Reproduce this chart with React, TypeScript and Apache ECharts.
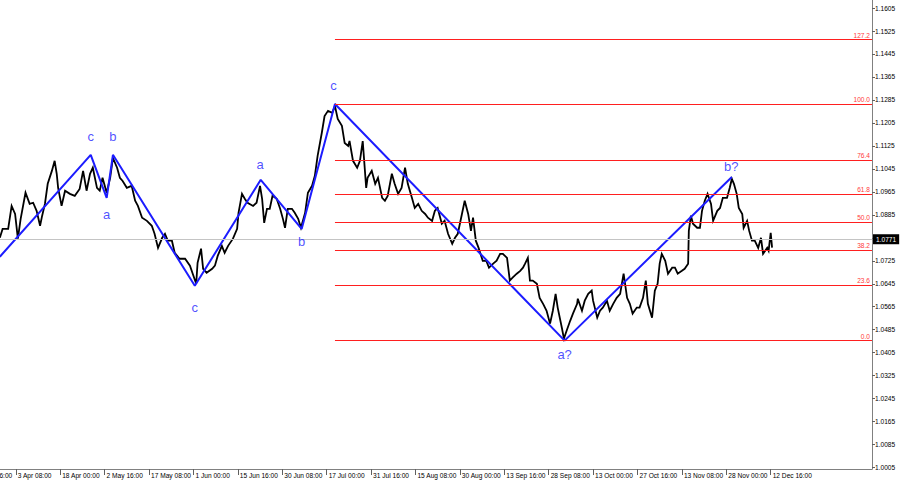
import React, { useEffect, useRef } from "react";
import * as echarts from "echarts";

// H4 bar index on the x axis, price on the y axis
const xTickBars = [-41, 23, 87, 151, 215, 279, 343, 407, 471, 535, 599, 663, 727, 791, 855, 919, 983, 1047, 1111];
const xTickLabels = [
  "17 Mar 16:00", "3 Apr 08:00", "18 Apr 00:00", "2 May 16:00", "17 May 08:00", "1 Jun 00:00",
  "15 Jun 16:00", "30 Jun 08:00", "17 Jul 00:00", "31 Jul 16:00", "15 Aug 08:00", "30 Aug 00:00",
  "13 Sep 16:00", "28 Sep 08:00", "13 Oct 00:00", "27 Oct 16:00", "13 Nov 08:00", "28 Nov 00:00", "12 Dec 16:00",
];
const yTickLabels = [
  "1.0005", "1.0085", "1.0165", "1.0245", "1.0325", "1.0405", "1.0485", "1.0565", "1.0645", "1.0725", "1.0805",
  "1.0885", "1.0965", "1.1045", "1.1125", "1.1205", "1.1285", "1.1365", "1.1445", "1.1525", "1.1605",
];

const pricePath: [number, number][] = [
  [0, 1.0805], [4, 1.0836], [12, 1.0836], [17, 1.0916], [22, 1.0888], [26, 1.0802], [30, 1.0871], [37, 1.0962],
  [43, 1.0923], [48, 1.0927], [53, 1.0899], [58, 1.0847], [61, 1.0882], [65, 1.0923], [69, 1.0993], [75, 1.1038],
  [79, 1.1073], [82, 1.1028], [84, 1.0979], [89, 1.0916], [94, 1.0969], [101, 1.0958], [108, 1.0951], [115, 1.0975],
  [120, 1.1038], [125, 1.0969], [130, 1.1028], [134, 1.1049], [140, 1.0979], [144, 1.0969], [148, 1.1014], [154, 1.0962],
  [159, 1.1014], [163, 1.1083], [169, 1.1049], [173, 1.1014], [177, 1.1003], [183, 1.0979], [190, 1.0986], [195, 1.0934],
  [199, 1.0916], [205, 1.0875], [212, 1.0864], [219, 1.0847], [223, 1.0819], [228, 1.077], [234, 1.0805], [238, 1.0819],
  [242, 1.0795], [248, 1.0795],
  [252, 1.0753], [259, 1.0732], [267, 1.0732], [274, 1.0708], [278, 1.068], [283, 1.0645], [285, 1.0718], [290, 1.0767],
  [293, 1.0697], [298, 1.0683], [306, 1.0697], [310, 1.0708], [314, 1.0742], [320, 1.0777], [324, 1.0753], [329, 1.0777],
  [336, 1.0802], [342, 1.0836], [344, 1.0892], [349, 1.0958], [353, 1.0941], [357, 1.0927], [365, 1.0916], [370, 1.0927],
  [375, 1.0986], [378, 1.0941], [381, 1.0857], [385, 1.0906], [389, 1.0906], [393, 1.0951], [399, 1.0941], [404, 1.0906],
  [408, 1.0871], [411, 1.084], [415, 1.0906], [421, 1.0906], [425, 1.0892], [430, 1.0871], [434, 1.084], [440, 1.0892],
  [444, 1.0962], [450, 1.0986], [454, 1.1021], [458, 1.109], [464, 1.117], [468, 1.1229], [473, 1.1247], [479, 1.124],
  [483, 1.1264], [487, 1.1219], [493, 1.1195], [497, 1.1135], [502, 1.1125],
  [504, 1.1142], [509, 1.1073], [515, 1.1049], [519, 1.1073], [523, 1.1142], [528, 1.0979], [530, 1.1014], [536, 1.1038],
  [541, 1.0993], [545, 1.1014], [551, 1.0944], [555, 1.0934], [559, 1.0951], [565, 1.1028], [569, 1.0993], [574, 1.0958],
  [579, 1.0979], [584, 1.1049], [588, 1.0993], [594, 1.0944], [598, 1.0909], [603, 1.0923], [608, 1.0899], [613, 1.0888],
  [617, 1.0875], [623, 1.0864], [627, 1.0899], [631, 1.0909], [637, 1.0854], [641, 1.0864], [646, 1.0819], [652, 1.0784],
  [656, 1.0805], [660, 1.0819], [666, 1.0888], [670, 1.0934], [675, 1.0888], [679, 1.0829], [682, 1.0875], [686, 1.0795],
  [690, 1.077], [696, 1.0725], [701, 1.0725], [705, 1.0701], [711, 1.0715], [716, 1.0725], [721, 1.0749], [725, 1.0749],
  [731, 1.0735], [735, 1.0656], [739, 1.0666], [745, 1.068], [750, 1.069], [754, 1.0701],
  [757, 1.0715], [761, 1.0735], [764, 1.0656], [768, 1.0656], [774, 1.0645], [778, 1.0596], [783, 1.0575], [788, 1.0551],
  [793, 1.0506], [797, 1.0551], [801, 1.061], [804, 1.0562], [810, 1.0492], [813, 1.0454], [817, 1.0482], [822, 1.0516],
  [826, 1.0541], [832, 1.0575], [833, 1.0593], [839, 1.0551], [843, 1.0586], [848, 1.061], [853, 1.0621], [855, 1.0586],
  [861, 1.0527], [865, 1.0551], [869, 1.0562], [875, 1.0586], [879, 1.0551], [884, 1.0575], [889, 1.0596], [894, 1.061],
  [899, 1.068], [904, 1.0596], [908, 1.0575], [912, 1.0541], [918, 1.0562], [922, 1.0562], [927, 1.0596], [931, 1.0656],
  [934, 1.0575], [940, 1.0527], [944, 1.0621], [948, 1.0645], [951, 1.0715], [954, 1.0749], [959, 1.0725], [963, 1.068],
  [969, 1.0701], [973, 1.0701], [977, 1.068], [983, 1.069], [987, 1.0697], [992, 1.0715], [993, 1.0829], [996, 1.0882],
  [999, 1.0854], [1005, 1.084],
  [1009, 1.084], [1012, 1.0899], [1016, 1.0934], [1020, 1.0958], [1025, 1.0923], [1028, 1.0864], [1034, 1.0899],
  [1038, 1.0909], [1042, 1.0944], [1048, 1.0944], [1052, 1.0979], [1055, 1.101], [1058, 1.0993], [1062, 1.0958],
  [1065, 1.0909], [1070, 1.0888], [1072, 1.084], [1077, 1.0864], [1080, 1.0829], [1084, 1.0795], [1088, 1.0795],
  [1093, 1.077], [1097, 1.0805], [1100, 1.0749], [1106, 1.077], [1108, 1.076], [1111, 1.0822], [1113, 1.0771],
];

const wavePath: [number, number][] = [
  [0, 1.0739], [131, 1.1094], [154, 1.0944], [163, 1.1094], [281, 1.0638], [376, 1.1007],
  [435, 1.0836], [483, 1.1271], [814, 1.0447], [1055, 1.1017],
];
const waveLabels: [number, number, string][] = [
  [131, 1.1156, "c"], [163, 1.1156, "b"], [154, 1.0885, "a"], [281, 1.0561, "c"], [375, 1.1059, "a"],
  [435, 1.0791, "b"], [481, 1.1334, "c"], [814, 1.0397, "a?"], [1054, 1.1055, "b?"],
];

const fibLevels = ["0.0", "23.6", "38.2", "50.0", "61.8", "76.4", "100.0", "127.2"];
const fibLow = 1.0447;
const fibHigh = 1.1271;
const fibStartBar = 483;
const lastBar = 1257;
const firstBar = -43;
const lastPrice = 1.0771;

const AXIS_FONT = "'Liberation Sans', Arial, sans-serif";

export default function App() {
  const ref = useRef<HTMLDivElement>(null);
  useEffect(() => {
    if (!ref.current) return;
    const chart = echarts.init(ref.current, undefined, { renderer: "svg" });
    const yVals = yTickLabels.map((s) => parseFloat(s));
    const fibMarks = fibLevels.map((lv) => {
      const v = fibLow + ((fibHigh - fibLow) * parseFloat(lv)) / 100;
      return [
        {
          coord: [fibStartBar, v],
          lineStyle: { color: "#ff1f1f", width: 1, type: "solid" },
          label: {
            show: true,
            position: "insideEndTop",
            formatter: lv,
            color: "#ff3a3a",
            fontSize: 6.6,
            fontFamily: AXIS_FONT,
            distance: [2, 1],
          },
        },
        { coord: [lastBar, v] },
      ];
    });
    chart.setOption({
      animation: false,
      backgroundColor: "#ffffff",
      grid: { left: 0, right: 28, top: 0, bottom: 16, containLabel: false },
      xAxis: {
        type: "value",
        min: firstBar,
        max: lastBar,
        splitLine: { show: false },
        axisLine: { show: true, onZero: false, lineStyle: { color: "#808080", width: 1 } },
        axisTick: { show: true, customValues: xTickBars, length: 6, lineStyle: { color: "#606060" } },
        axisLabel: {
          show: true,
          customValues: xTickBars,
          align: "left",
          margin: 3,
          padding: [0, 0, 0, 2],
          fontSize: 6.6,
          color: "#000",
          fontFamily: AXIS_FONT,
          formatter: (v: number) => {
            const i = xTickBars.indexOf(Math.round(v));
            return i >= 0 ? xTickLabels[i] : "";
          },
        },
      },
      yAxis: {
        type: "value",
        position: "right",
        min: 1.0,
        max: 1.1633,
        scale: true,
        splitLine: { show: false },
        axisLine: { show: true, onZero: false, lineStyle: { color: "#808080", width: 1 } },
        axisTick: { show: true, customValues: yVals, length: 3, lineStyle: { color: "#606060" } },
        axisLabel: {
          show: true,
          customValues: yVals,
          margin: 3,
          fontSize: 6.6,
          color: "#000",
          fontFamily: AXIS_FONT,
          formatter: (v: number) => v.toFixed(4),
        },
      },
      series: [
        {
          name: "levels",
          type: "line",
          data: [],
          z: 1,
          silent: true,
          markLine: {
            silent: true,
            symbol: ["none", "none"],
            animation: false,
            data: [
              ...fibMarks,
              {
                yAxis: lastPrice,
                lineStyle: { color: "#c4c4c4", width: 1, type: "solid" },
                label: {
                  show: true,
                  position: "end",
                  distance: 1,
                  formatter: lastPrice.toFixed(4),
                  backgroundColor: "#000",
                  color: "#fff",
                  fontSize: 6.6,
                  fontFamily: AXIS_FONT,
                  padding: [2, 3, 1, 3],
                },
              },
            ],
          },
        },
        {
          name: "EURUSD",
          type: "line",
          data: pricePath,
          showSymbol: false,
          z: 3,
          lineStyle: { color: "#000", width: 1.8, join: "miter" },
        },
        {
          name: "waves",
          type: "line",
          data: wavePath,
          showSymbol: false,
          z: 4,
          lineStyle: { color: "#1c1cff", width: 2 },
        },
        {
          name: "waveLabels",
          type: "scatter",
          data: waveLabels,
          symbolSize: 1,
          z: 5,
          itemStyle: { color: "rgba(0,0,0,0)" },
          label: {
            show: true,
            position: "inside",
            formatter: (p: any) => p.value[2],
            color: "#1f1fff",
            fontSize: 13,
            fontFamily: AXIS_FONT,
          },
        },
      ],
    });
    return () => chart.dispose();
  }, []);
  return (
    <div
      style={{ position: "absolute", left: 0, top: 0, width: 900, height: 485, overflow: "hidden", background: "#fff" }}
    >
      <div ref={ref} style={{ position: "absolute", left: -30, top: 0, width: 930, height: 485 }} />
    </div>
  );
}
